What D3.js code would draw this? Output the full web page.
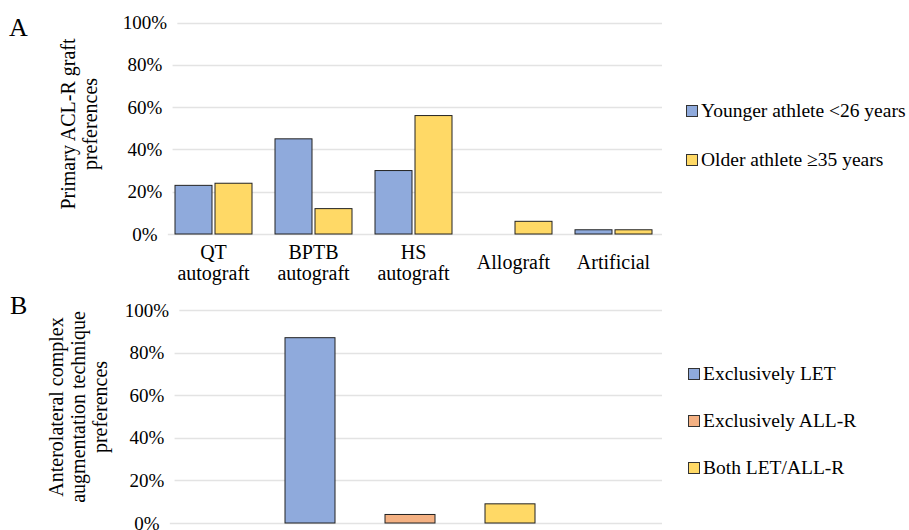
<!DOCTYPE html>
<html>
<head>
<meta charset="utf-8">
<script src="https://d3js.org/d3.v7.min.js"></script>
<style>
  body { margin: 0; background: #fff; }
  svg text { font-family: "Liberation Serif", "Times New Roman", Times, serif; fill: #000; }
</style>
</head>
<body>
<svg id="chart" width="909" height="530" font-family="Liberation Serif, Times New Roman, serif"></svg>
<script>
// ---- data, panel A ----
var categoriesA = [["QT", "autograft"], ["BPTB", "autograft"], ["HS", "autograft"], ["Allograft"], ["Artificial"]];
var seriesA = ["Younger athlete <26 years", "Older athlete \u226535 years"];
var youngerA = [23, 45, 30, 0, 2];
var olderA = [24, 12, 56, 6, 2];
var colorsA = ["#8faadc", "#ffd966"];

// ---- data, panel B ----
var seriesB = ["Exclusively LET", "Exclusively ALL-R", "Both LET/ALL-R"];
var valuesB = [87, 4, 9];
var colorsB = ["#8faadc", "#f4b183", "#ffd966"];

var yTicks = [0, 20, 40, 60, 80, 100];

var svg = d3.select("#chart");

function drawGrid(g, y, labelX, right) {
    yTicks.forEach(function(t) {
        var lbl = g.append("text")
            .attr("x", labelX)
            .attr("y", y(t))
            .attr("dy", "0.35em")
            .attr("text-anchor", "middle")
            .style("font-size", "19px")
            .text(t + "%");
        var bb = lbl.node().getBBox();
        g.insert("line", ":first-child")
            .attr("x1", bb.x + bb.width + 10)
            .attr("x2", right)
            .attr("y1", Math.round(y(t)) + 0.5)
            .attr("y2", Math.round(y(t)) + 0.5)
            .attr("stroke", "#e3e3e3")
            .attr("stroke-width", 1.3);
    });
}

function drawTitle(g, lines, cx, cy) {
    var t = g.append("text")
        .attr("transform", "translate(" + cx + "," + cy + ") rotate(-90)")
        .attr("text-anchor", "middle")
        .style("font-size", "20px");
    var n = lines.length;
    lines.forEach(function(l, i) {
        t.append("tspan")
            .attr("x", 0)
            .attr("y", (i - (n - 1) / 2) * 22 + 6)
            .text(l);
    });
}

function drawLegend(g, names, colors, x, y0, gap) {
    names.forEach(function(name, i) {
        var cy = y0 + i * gap;
        g.append("rect")
            .attr("x", x + 0.5)
            .attr("y", cy - 5.5)
            .attr("width", 11)
            .attr("height", 11)
            .attr("fill", colors[i])
            .attr("stroke", "#333")
            .attr("stroke-width", 1);
        g.append("text")
            .attr("x", x + 15)
            .attr("y", cy + 6)
            .style("font-size", "19.5px")
            .text(name);
    });
}

// ---- panel A ----
var gA = svg.append("g");
var yA = d3.scaleLinear().domain([0, 100]).range([234, 22.5]);
var xA = d3.scaleBand().domain(d3.range(categoriesA.length))
    .range([163.5, 663.5]).paddingInner(0.23).paddingOuter(0.115);
var xAin = d3.scaleBand().domain([0, 1]).range([0, xA.bandwidth()]).paddingInner(0.075);

drawGrid(gA, yA, 145, 662);

// one record per bar, keeping its series index
var barsA = [];
categoriesA.forEach(function(c, i) {
    barsA.push({ cat: i, s: 0, v: youngerA[i] });
    barsA.push({ cat: i, s: 1, v: olderA[i] });
});

gA.selectAll(".barA").data(barsA.filter(function(d) { return d.v > 0; })).enter().append("rect")
    .attr("class", "barA")
    .attr("x", function(d) { return xA(d.cat) + xAin(d.s); })
    .attr("y", function(d) { return yA(d.v); })
    .attr("width", xAin.bandwidth())
    .attr("height", function(d) { return yA(0) - yA(d.v); })
    .attr("fill", function(d) { return colorsA[d.s]; })
    .attr("stroke", "#222")
    .attr("stroke-width", 1);

categoriesA.forEach(function(c, i) {
    var cx = xA(i) + xA.bandwidth() / 2;
    var t = gA.append("text").attr("text-anchor", "middle").style("font-size", "20px");
    if (c.length === 2) {
        t.append("tspan").attr("x", cx).attr("y", 259).text(c[0]);
        t.append("tspan").attr("x", cx).attr("y", 280).text(c[1]);
    } else {
        t.append("tspan").attr("x", cx).attr("y", 269).text(c[0]);
    }
});

drawTitle(gA, ["Primary ACL-R graft", "preferences"], 80, 124);
gA.append("text").attr("x", 9).attr("y", 36).style("font-size", "26px").text("A");
drawLegend(gA, seriesA, colorsA, 686, 111, 49);

// ---- panel B ----
var gB = svg.append("g");
var yB = d3.scaleLinear().domain([0, 100]).range([523, 310]);
var xB = d3.scaleBand().domain(seriesB).range([260, 560]).paddingInner(0.5).paddingOuter(0.25);

drawGrid(gB, yB, 147, 662);

gB.selectAll(".barB").data(valuesB).enter().append("rect")
    .attr("class", "barB")
    .attr("x", function(d, i) { return xB(seriesB[i]); })
    .attr("y", function(d) { return yB(d); })
    .attr("width", xB.bandwidth())
    .attr("height", function(d) { return yB(0) - yB(d); })
    .attr("fill", function(d, i) { return colorsB[i]; })
    .attr("stroke", "#222")
    .attr("stroke-width", 1);

drawTitle(gB, ["Anterolateral complex", "augmentation technique", "preferences"], 78.5, 407);
gB.append("text").attr("x", 10).attr("y", 314).style("font-size", "26px").text("B");
drawLegend(gB, seriesB, colorsB, 688, 374, 47);
</script>
</body>
</html>
